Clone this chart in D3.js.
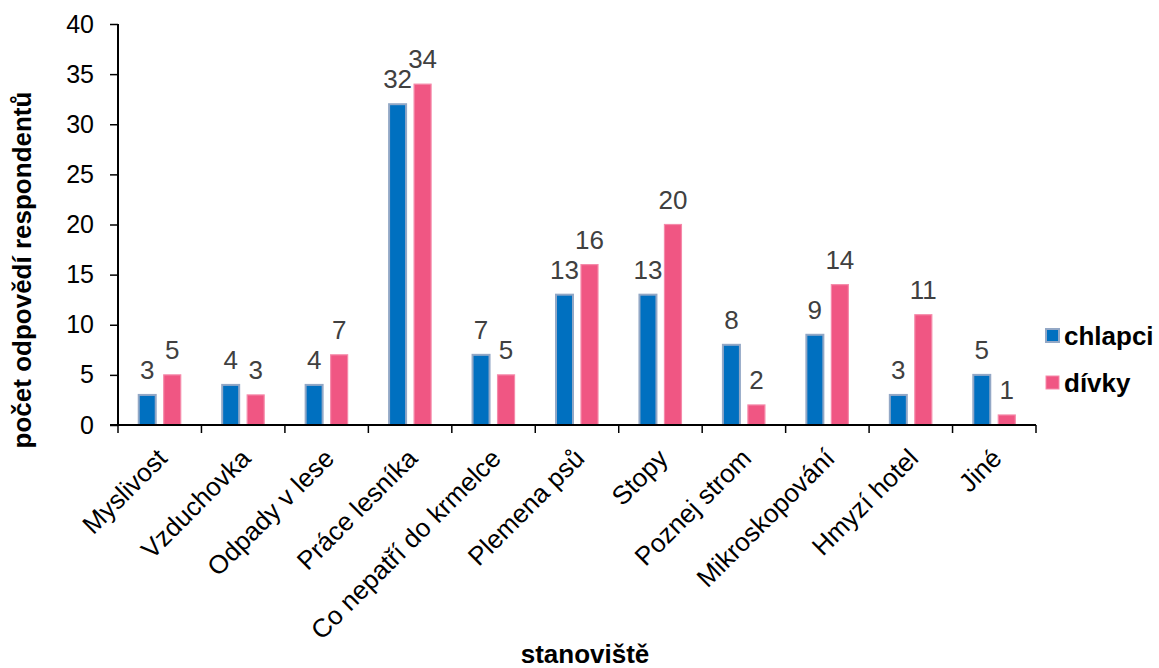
<!DOCTYPE html>
<html>
<head>
<meta charset="utf-8">
<script src="https://cdn.jsdelivr.net/npm/d3@7"></script>
<style>
  html, body { margin: 0; padding: 0; background: #ffffff; }
  svg { display: block; font-family: "Liberation Sans", Arial, sans-serif; }
</style>
</head>
<body>
<svg id="chart" width="1159" height="668"></svg>
<script>
// Stations of the forest programme
const categories = ["Myslivost", "Vzduchovka", "Odpady v lese", "Práce lesníka", "Co nepatří do krmelce",
  "Plemena psů", "Stopy", "Poznej strom", "Mikroskopování", "Hmyzí hotel", "Jiné"];
const seriesNames = ["chlapci", "dívky"];
const chlapci = [3, 4, 4, 32, 7, 13, 13, 8, 9, 3, 5];
const divky = [5, 3, 7, 34, 5, 16, 20, 2, 14, 11, 1];
const yTicks = [0, 5, 10, 15, 20, 25, 30, 35, 40];

const fills = { "chlapci": "#0070C0", "dívky": "#F05683" };
const strokes = { "chlapci": "#93A8C6", "dívky": "#F58AAA" };

const svg = d3.select("#chart");
const plotLeft = 118, plotRight = 1036, plotTop = 24, plotBottom = 425;

const x0 = d3.scaleBand().domain(categories).range([plotLeft, plotRight]).padding(0);
const bw = x0.bandwidth();
const x1 = d3.scaleBand().domain(seriesNames)
  .range([bw / 2 - 22, bw / 2 + 22]).paddingInner(0.24).paddingOuter(0);
const y = d3.scaleLinear().domain([0, 40]).range([plotBottom, plotTop]);

const rows = categories.map((c, i) => ({ cat: c, values: [
  { key: "chlapci", value: chlapci[i] },
  { key: "dívky", value: divky[i] }
]}));

// Bars
const groups = svg.append("g").selectAll("g").data(rows).join("g")
  .attr("transform", d => `translate(${x0(d.cat)},0)`);

groups.selectAll("rect").data(d => d.values).join("rect")
  .attr("x", d => x1(d.key) + 1)
  .attr("width", x1.bandwidth() - 2)
  .attr("y", d => y(d.value))
  .attr("height", d => y(0) - y(d.value))
  .attr("fill", d => fills[d.key])
  .attr("stroke", d => strokes[d.key])
  .attr("stroke-width", d => d.key === "chlapci" ? 2 : 1.2);

// Value labels
groups.selectAll("text").data(d => d.values).join("text")
  .attr("x", d => x1(d.key) + x1.bandwidth() / 2)
  .attr("y", d => y(d.value) - 16)
  .attr("text-anchor", "middle")
  .attr("font-size", 26)
  .attr("fill", "#404040")
  .text(d => d.value);

// Y axis
const yAxis = svg.append("g")
  .attr("transform", `translate(${plotLeft},0)`)
  .call(d3.axisLeft(y).tickValues(yTicks).tickSize(8).tickPadding(16).tickFormat(d3.format("d")));
yAxis.select(".domain").attr("stroke", "#000").attr("stroke-width", 2)
  .attr("d", `M0,${plotBottom}V${plotTop}`);
yAxis.selectAll(".tick line").attr("stroke", "#000").attr("stroke-width", 1.5);
yAxis.selectAll(".tick text").attr("font-size", 25).attr("fill", "#000")
  .attr("font-family", "Liberation Sans, Arial, sans-serif");

// X axis: ticks on category boundaries
const xAxis = svg.append("g").attr("transform", `translate(0,${plotBottom})`);
const bounds = categories.map(c => x0(c)).concat([plotRight]);
xAxis.append("line").attr("x1", plotLeft - 8).attr("x2", plotRight).attr("y1", 0).attr("y2", 0)
  .attr("stroke", "#000").attr("stroke-width", 2);
xAxis.selectAll("line.tk").data(bounds).join("line").attr("class", "tk")
  .attr("x1", d => d).attr("x2", d => d).attr("y1", 0).attr("y2", 8)
  .attr("stroke", "#000").attr("stroke-width", 1.5);

// Category labels, rotated
xAxis.selectAll("text.cat").data(categories).join("text").attr("class", "cat")
  .attr("transform", d => `translate(${x0(d) + bw / 2 + 9},${35}) rotate(-45)`)
  .attr("text-anchor", "end")
  .attr("font-size", 26)
  .attr("fill", "#000")
  .text(d => d);

// Axis titles
svg.append("text")
  .attr("x", 585).attr("y", 663)
  .attr("text-anchor", "middle").attr("font-weight", "bold").attr("font-size", 26)
  .text("stanoviště");

svg.append("text")
  .attr("transform", "translate(31,270) rotate(-90)")
  .attr("text-anchor", "middle").attr("font-weight", "bold").attr("font-size", 26)
  .text("počet odpovědí respondentů");

// Legend
const legend = svg.append("g").attr("transform", "translate(1046,0)");
const legendY = [329, 376];
seriesNames.forEach((s, i) => {
  legend.append("rect").attr("x", 0).attr("y", legendY[i]).attr("width", 13).attr("height", 13)
    .attr("fill", fills[s]).attr("stroke", strokes[s]).attr("stroke-width", s === "chlapci" ? 2 : 1);
  legend.append("text").attr("x", 18).attr("y", legendY[i] + 16)
    .attr("font-weight", "bold").attr("font-size", 26).attr("fill", "#000")
    .text(s);
});
</script>
</body>
</html>
